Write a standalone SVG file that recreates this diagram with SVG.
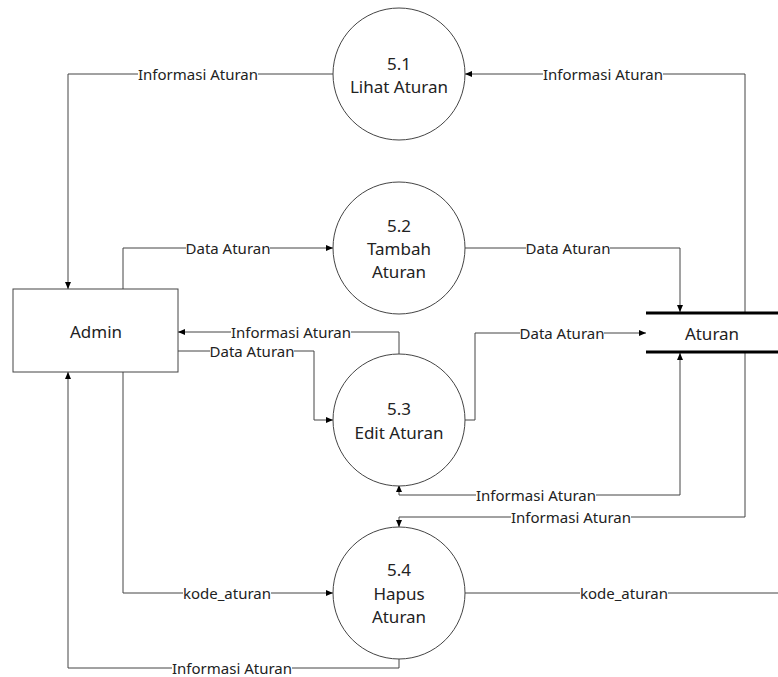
<svg xmlns="http://www.w3.org/2000/svg" width="778" height="677" viewBox="0 0 778 677">
<style>
.n{fill:#fff;stroke:#444;stroke-width:1}
.t{font-family:"Noto Sans","Open Sans",sans-serif;font-size:17px;fill:#222;text-anchor:middle;dominant-baseline:central}
.l{font-family:"Noto Sans","Open Sans",sans-serif;font-size:15px;fill:#222;text-anchor:middle;dominant-baseline:central}
.c path{fill:none;stroke:#444;stroke-width:1}
.s{stroke:#000;stroke-width:3}
.bg{fill:#fff}
</style>
<defs>
<marker id="a" markerWidth="8" markerHeight="6" refX="7" refY="3" orient="auto-start-reverse" markerUnits="userSpaceOnUse">
<path d="M0,0 L7,3 L0,6 Z" fill="#000"/>
</marker>
</defs>
<g class="c" id="connectors">
<path d="M333,74 H68 V289" marker-end="url(#a)"/>
<path d="M745,313 V74 H465" marker-end="url(#a)"/>
<path d="M123,289 V248 H333" marker-end="url(#a)"/>
<path d="M465,248 H680 V312" marker-end="url(#a)"/>
<path d="M399,354 V332 H178" marker-end="url(#a)"/>
<path d="M178,351 H314 V420 H333" marker-end="url(#a)"/>
<path d="M465,420 H475 V333 H646" marker-end="url(#a)"/>
<path d="M399,485 V495 H680 V353" marker-start="url(#a)" marker-end="url(#a)"/>
<path d="M745,353 V517 H399 V527" marker-end="url(#a)"/>
<path d="M123,372 V593 H333" marker-end="url(#a)"/>
<path d="M465,593 H778"/>
<path d="M399,658 V668 H68 V372" marker-end="url(#a)"/>
</g>
<g id="labels">
<rect class="bg" x="138" y="67" width="120" height="14"/><text class="l" x="198" y="74">Informasi Aturan</text>
<rect class="bg" x="543" y="67" width="120" height="14"/><text class="l" x="603" y="74">Informasi Aturan</text>
<rect class="bg" x="186" y="241" width="84" height="14"/><text class="l" x="228" y="248">Data Aturan</text>
<rect class="bg" x="526" y="241" width="84" height="14"/><text class="l" x="568" y="248">Data Aturan</text>
<rect class="bg" x="231" y="325" width="120" height="14"/><text class="l" x="291" y="332">Informasi Aturan</text>
<rect class="bg" x="210" y="344" width="84" height="14"/><text class="l" x="252" y="351">Data Aturan</text>
<rect class="bg" x="520" y="326" width="84" height="14"/><text class="l" x="562" y="333">Data Aturan</text>
<rect class="bg" x="476" y="488" width="120" height="14"/><text class="l" x="536" y="495">Informasi Aturan</text>
<rect class="bg" x="511" y="510" width="120" height="14"/><text class="l" x="571" y="517">Informasi Aturan</text>
<rect class="bg" x="183" y="586" width="88" height="14"/><text class="l" x="227" y="593">kode_aturan</text>
<rect class="bg" x="580" y="586" width="88" height="14"/><text class="l" x="624" y="593">kode_aturan</text>
<rect class="bg" x="172" y="661" width="120" height="14"/><text class="l" x="232" y="668">Informasi Aturan</text>
</g>
<g id="admin">
<rect class="n" x="13" y="289" width="165" height="83"/>
<text class="t" x="96" y="331">Admin</text>
</g>
<g id="p51">
<circle class="n" cx="399" cy="74" r="66"/>
<text class="t" x="399" y="63">5.1</text>
<text class="t" x="399" y="86">Lihat Aturan</text>
</g>
<g id="p52">
<circle class="n" cx="399" cy="248" r="66"/>
<text class="t" x="399" y="225">5.2</text>
<text class="t" x="399" y="248">Tambah</text>
<text class="t" x="399" y="271">Aturan</text>
</g>
<g id="p53">
<circle class="n" cx="399" cy="420" r="66"/>
<text class="t" x="399" y="408">5.3</text>
<text class="t" x="399" y="432">Edit Aturan</text>
</g>
<g id="p54">
<circle class="n" cx="399" cy="593" r="66"/>
<text class="t" x="399" y="569">5.4</text>
<text class="t" x="399" y="593">Hapus</text>
<text class="t" x="399" y="616">Aturan</text>
</g>
<g id="aturan">
<line class="s" x1="646" y1="313" x2="778" y2="313"/>
<line class="s" x1="646" y1="352" x2="778" y2="352"/>
<text class="t" x="712" y="333">Aturan</text>
</g>
</svg>
